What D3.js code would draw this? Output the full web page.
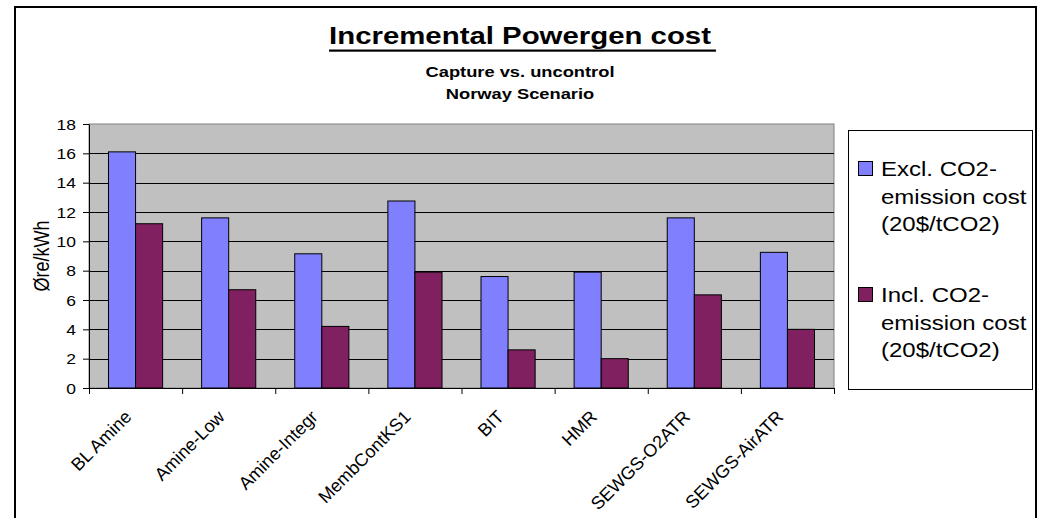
<!DOCTYPE html>
<html>
<head>
<meta charset="utf-8">
<script src="https://cdn.jsdelivr.net/npm/d3@7"></script>
<style>
  body { margin: 0; background: #fff; }
  text { font-family: "Liberation Sans", Arial, sans-serif; fill: #000; }
</style>
</head>
<body>
<svg id="chart" width="1041" height="518"></svg>
<script>
// data
var categories = ["BL Amine", "Amine-Low", "Amine-Integr", "MembContKS1", "BIT", "HMR", "SEWGS-O2ATR", "SEWGS-AirATR"];
var exclCO2 = [16.1, 11.6, 9.15, 12.75, 7.6, 7.9, 11.6, 9.25];
var inclCO2 = [11.2, 6.7, 4.2, 7.9, 2.6, 2.0, 6.35, 4.0];
var seriesLabels = [["Excl. CO2-", "emission cost", "(20$/tCO2)"],
                    ["Incl. CO2-", "emission cost", "(20$/tCO2)"]];
var seriesColors = ["#8080ff", "#802060"];
var yTicks = [0, 2, 4, 6, 8, 10, 12, 14, 16, 18];

var svg = d3.select("#chart");
var plotLeft = 89, plotRight = 834, plotTop = 124, plotBottom = 388;
var stretch = 1.25; // text in the original is drawn wider than normal

// outer frame
svg.append("rect")
    .attr("x", 15).attr("y", 7)
    .attr("width", 1021).attr("height", 560)
    .attr("fill", "#fff").attr("stroke", "#000").attr("stroke-width", 2);

// scales
var x = d3.scaleBand().domain(categories).range([plotLeft, plotRight]);
var xIdx = d3.scaleLinear().domain([0, categories.length]).range([plotLeft, plotRight]);
var xSeries = d3.scaleBand().domain([0, 1]).range([0, x.bandwidth()]).paddingOuter(0.72);
var y = d3.scaleLinear().domain([0, 18]).range([plotBottom, plotTop]);

// plot area
svg.append("rect")
    .attr("x", plotLeft).attr("y", plotTop)
    .attr("width", plotRight - plotLeft).attr("height", plotBottom - plotTop)
    .attr("fill", "#c0c0c0").attr("stroke", "#808080");

svg.append("g").selectAll("line")
    .data(yTicks.filter(function(d) { return d > 0 && d < 18; }))
    .enter().append("line")
    .attr("x1", plotLeft).attr("x2", plotRight)
    .attr("y1", function(d) { return Math.round(y(d)) + 0.5; })
    .attr("y2", function(d) { return Math.round(y(d)) + 0.5; })
    .attr("stroke", "#000");

// bars
var series = [exclCO2, inclCO2];
series.forEach(function(values, s) {
    svg.append("g").selectAll("rect")
        .data(values)
        .enter().append("rect")
        .attr("x", function(d, i) { return x(categories[i]) + xSeries(s); })
        .attr("y", function(d) { return y(d); })
        .attr("width", xSeries.bandwidth())
        .attr("height", function(d) { return plotBottom - y(d); })
        .attr("fill", seriesColors[s])
        .attr("stroke", "#000");
});

// y axis
var yAxis = svg.append("g")
    .attr("transform", "translate(" + plotLeft + ",0)")
    .call(d3.axisLeft(y).tickValues(yTicks).tickSize(6).tickSizeOuter(0));
yAxis.select(".domain").attr("stroke", "#000");
yAxis.selectAll(".tick line").attr("stroke", "#000");
yAxis.selectAll(".tick text")
    .attr("x", null)
    .attr("dy", null)
    .attr("transform", "translate(-13,5) scale(" + stretch + ",1)")
    .attr("font-family", null)
    .style("font-size", "14px");

// x axis (ticks between categories)
var xAxis = svg.append("g")
    .attr("transform", "translate(0," + plotBottom + ")")
    .call(d3.axisBottom(xIdx).ticks(categories.length).tickFormat("").tickSize(6).tickSizeOuter(0));
xAxis.select(".domain").attr("stroke", "#000");
xAxis.selectAll(".tick line").attr("stroke", "#000");

svg.append("g").selectAll("text")
    .data(categories)
    .enter().append("text")
    .attr("transform", function(d) {
        return "translate(" + (x(d) + x.bandwidth() / 2 - 3) + ",418) rotate(-45)";
    })
    .attr("text-anchor", "end")
    .style("font-size", "18px")
    .text(function(d) { return d; });

// axis title
svg.append("text")
    .attr("transform", "translate(49,256) scale(1.24,1) rotate(-90)")
    .attr("text-anchor", "middle")
    .style("font-size", "18px")
    .text("Øre/kWh");

// titles
var title = svg.append("text")
    .attr("transform", "translate(520,44) scale(" + stretch + ",1)")
    .attr("text-anchor", "middle")
    .style("font-size", "23.5px")
    .style("font-weight", "bold")
    .text("Incremental Powergen cost");
var tw = title.node().getComputedTextLength() * stretch;
svg.append("rect")
    .attr("x", 520 - tw / 2).attr("y", 49.5)
    .attr("width", tw + 5).attr("height", 2.2)
    .attr("fill", "#000");

svg.append("text")
    .attr("transform", "translate(520,77) scale(1.22,1)")
    .attr("text-anchor", "middle")
    .style("font-size", "15px")
    .style("font-weight", "bold")
    .text("Capture vs. uncontrol");
svg.append("text")
    .attr("transform", "translate(520,99) scale(1.22,1)")
    .attr("text-anchor", "middle")
    .style("font-size", "15px")
    .style("font-weight", "bold")
    .text("Norway Scenario");

// legend
svg.append("rect")
    .attr("x", 848.5).attr("y", 130.5)
    .attr("width", 184).attr("height", 259)
    .attr("fill", "#fff").attr("stroke", "#000");

var legend = svg.append("g").selectAll("g")
    .data(seriesLabels)
    .enter().append("g")
    .attr("transform", function(d, i) { return "translate(0," + (i * 126) + ")"; });

legend.append("rect")
    .attr("x", 858.5).attr("y", 161.5)
    .attr("width", 14).attr("height", 14)
    .attr("fill", function(d, i) { return seriesColors[i]; })
    .attr("stroke", "#000");

legend.selectAll("text")
    .data(function(d) { return d; })
    .enter().append("text")
    .attr("transform", function(d, j) {
        return "translate(881," + (176 + j * 27.5) + ") scale(1.2,1)";
    })
    .style("font-size", "20px")
    .text(function(d) { return d; });
</script>
</body>
</html>
